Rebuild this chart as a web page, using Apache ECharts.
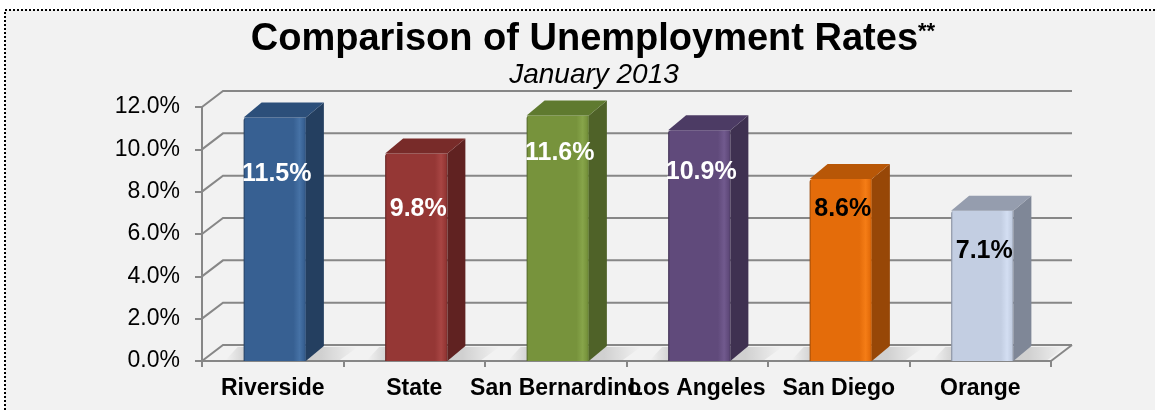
<!DOCTYPE html>
<html>
<head>
<meta charset="utf-8">
<script src="https://cdn.jsdelivr.net/npm/echarts@6/dist/echarts.min.js"></script>
<style>
  html, body { margin: 0; padding: 0; background: #ffffff; }
  #chart { width: 1155px; height: 410px; }
</style>
</head>
<body>
<div id="chart"></div>
<script>
// ---- data ----
const categories = ['Riverside', 'State', 'San Bernardino', 'Los Angeles', 'San Diego', 'Orange'];
const rates = [11.5, 9.8, 11.6, 10.9, 8.6, 7.1];
const yTicks = [0, 2, 4, 6, 8, 10, 12];
const titleText = 'Comparison of Unemployment Rates';
const titleMark = '**';
const subtitleText = 'January 2013';

// ---- styling ----
const barFront = ['#376092', '#953735', '#77933c', '#604a7b', '#e46c0a', '#c3cee2'];
const barHighlight = ['#4672a6', '#a84543', '#87a54a', '#715a8e', '#f57d16', '#d3def2'];
const barTop = ['#2c4f7a', '#782b29', '#5f7a2f', '#4c3b64', '#b85707', '#959dae'];
const barSide = ['#243f60', '#602221', '#4f6228', '#3f3151', '#974707', '#7f8797'];
const labelColor = ['#ffffff', '#ffffff', '#ffffff', '#ffffff', '#000000', '#000000'];
const labelDrop = [57, 56, 38, 42, 30, 40]; // px from bar top down to value label centre

const FONT = '"Liberation Sans", Arial, Helvetica, sans-serif';
const GRID_LINE = '#878787';
const WALL_DX = 21, WALL_DY = -16;   // back wall offset
const BAR_DX = 18, BAR_DY = -15;     // bar depth

// Back wall gridlines, left wall diagonals and floor edge
function renderWall(params, api) {
  const cs = params.coordSys;
  const v = api.value(1);
  const y = api.coord([0, v])[1];
  const left = cs.x, right = cs.x + cs.width;
  const children = [{
    type: 'polyline',
    shape: { points: [[left, y], [left + WALL_DX, y + WALL_DY], [right + WALL_DX, y + WALL_DY]] },
    style: { stroke: GRID_LINE, lineWidth: 2, fill: null }
  }];
  if (v === yTicks[0]) {
    children.push({
      type: 'line',
      shape: { x1: right, y1: y, x2: right + WALL_DX, y2: y + WALL_DY },
      style: { stroke: GRID_LINE, lineWidth: 2 }
    });
  }
  return { type: 'group', children };
}

// Pseudo-3D column: floor shadow, front face, side face, top face and value label
function renderBar(params, api) {
  const i = params.dataIndex;
  const val = api.value(1);
  const base = api.coord([api.value(0), 0]);
  const top = api.coord([api.value(0), val]);
  const band = api.size([1, 0])[0];
  const w = band * 0.44;
  const x0 = base[0] + 2 - w / 2, x1 = x0 + w;
  const yb = base[1], yt = top[1];

  const shL = x0 - 18, shR = x1 + BAR_DX + 22;
  const shadow = {
    type: 'polygon',
    shape: { points: [[shL, yb - 1], [shR - 6, yb - 1], [shR + 12, yb - 14], [shL + 12, yb - 14]] },
    style: {
      fill: {
        type: 'linear', x: 0, y: 0, x2: 1, y2: 0,
        colorStops: [
          { offset: 0, color: 'rgba(0,0,0,0)' },
          { offset: 0.18, color: 'rgba(0,0,0,0.16)' },
          { offset: 0.72, color: 'rgba(0,0,0,0.14)' },
          { offset: 1, color: 'rgba(0,0,0,0)' }
        ]
      }
    }
  };
  const front = {
    type: 'rect',
    shape: { x: x0, y: yt, width: w, height: yb - yt, r: [3, 0, 0, 0] },
    style: {
      fill: {
        type: 'linear', x: 0, y: 0, x2: 1, y2: 0,
        colorStops: [
          { offset: 0, color: barSide[i] },
          { offset: 0.03, color: barFront[i] },
          { offset: 0.8, color: barFront[i] },
          { offset: 0.9, color: barHighlight[i] },
          { offset: 0.97, color: barFront[i] },
          { offset: 1, color: barTop[i] }
        ]
      }
    }
  };
  const side = {
    type: 'polygon',
    shape: { points: [[x1, yt], [x1 + BAR_DX, yt + BAR_DY], [x1 + BAR_DX, yb + BAR_DY], [x1, yb]] },
    style: { fill: barSide[i] }
  };
  const cap = {
    type: 'polygon',
    shape: { points: [[x0, yt], [x1, yt], [x1 + BAR_DX, yt + BAR_DY], [x0 + BAR_DX, yt + BAR_DY]] },
    style: { fill: barTop[i] }
  };
  const label = {
    type: 'text',
    z2: 10,
    style: {
      text: val.toFixed(1) + '%',
      x: (x0 + x1) / 2 + 2,
      y: yt + labelDrop[i],
      align: 'center',
      verticalAlign: 'middle',
      fontSize: 25,
      fontWeight: 'bold',
      fontFamily: FONT,
      fill: labelColor[i]
    }
  };
  return { type: 'group', children: [shadow, front, side, cap, label] };
}

const chart = echarts.init(document.getElementById('chart'), null, { renderer: 'canvas' });
chart.setOption({
  animation: false,
  backgroundColor: '#ffffff',
  graphic: [
    {
      type: 'rect', z: -10, silent: true,
      shape: { x: 5, y: 10, width: 1170, height: 420 },
      style: { fill: '#f2f2f2', stroke: '#000000', lineWidth: 2, lineDash: [2, 2] }
    },
    {
      type: 'text', z: 10, x: 593, y: 40,
      style: {
        text: '{t|' + titleText + '}{s|' + titleMark + '}',
        align: 'center', verticalAlign: 'middle',
        rich: {
          t: { fontSize: 38, fontWeight: 'bold', fontFamily: FONT, fill: '#000000' },
          s: { fontSize: 22, fontWeight: 'bold', fontFamily: FONT, fill: '#000000', verticalAlign: 'top' }
        }
      }
    },
    {
      type: 'text', z: 10, x: 594, y: 75,
      style: {
        text: subtitleText, align: 'center', verticalAlign: 'middle',
        fontSize: 28, fontStyle: 'italic', fontFamily: FONT, fill: '#000000'
      }
    }
  ],
  grid: { left: 202, right: 104, top: 107, bottom: 49, containLabel: false, outerBoundsMode: 'none' },
  xAxis: {
    type: 'category',
    data: categories,
    boundaryGap: true,
    axisLine: { show: true, lineStyle: { color: GRID_LINE, width: 2 } },
    axisTick: { show: true, length: 6, lineStyle: { color: GRID_LINE, width: 2 } },
    axisLabel: {
      interval: 0, hideOverlap: false, color: '#000000', fontSize: 23, fontWeight: 'bold',
      fontFamily: FONT, margin: 16
    },
    splitLine: { show: false }
  },
  yAxis: {
    type: 'value',
    min: yTicks[0],
    max: yTicks[yTicks.length - 1],
    interval: yTicks[1] - yTicks[0],
    axisLine: { show: true, lineStyle: { color: GRID_LINE, width: 2 } },
    axisTick: { show: true, length: 7, lineStyle: { color: GRID_LINE, width: 2 } },
    axisLabel: {
      formatter: v => v.toFixed(1) + '%',
      color: '#000000', fontSize: 23, fontFamily: FONT, margin: 22
    },
    splitLine: { show: false }
  },
  series: [
    {
      type: 'custom',
      name: 'walls',
      silent: true,
      clip: false,
      z: 1,
      renderItem: renderWall,
      data: yTicks.map(v => [0, v])
    },
    {
      type: 'custom',
      name: 'Unemployment rate',
      clip: false,
      z: 3,
      renderItem: renderBar,
      data: categories.map((c, i) => [c, rates[i]])
    }
  ]
});
</script>
</body>
</html>
